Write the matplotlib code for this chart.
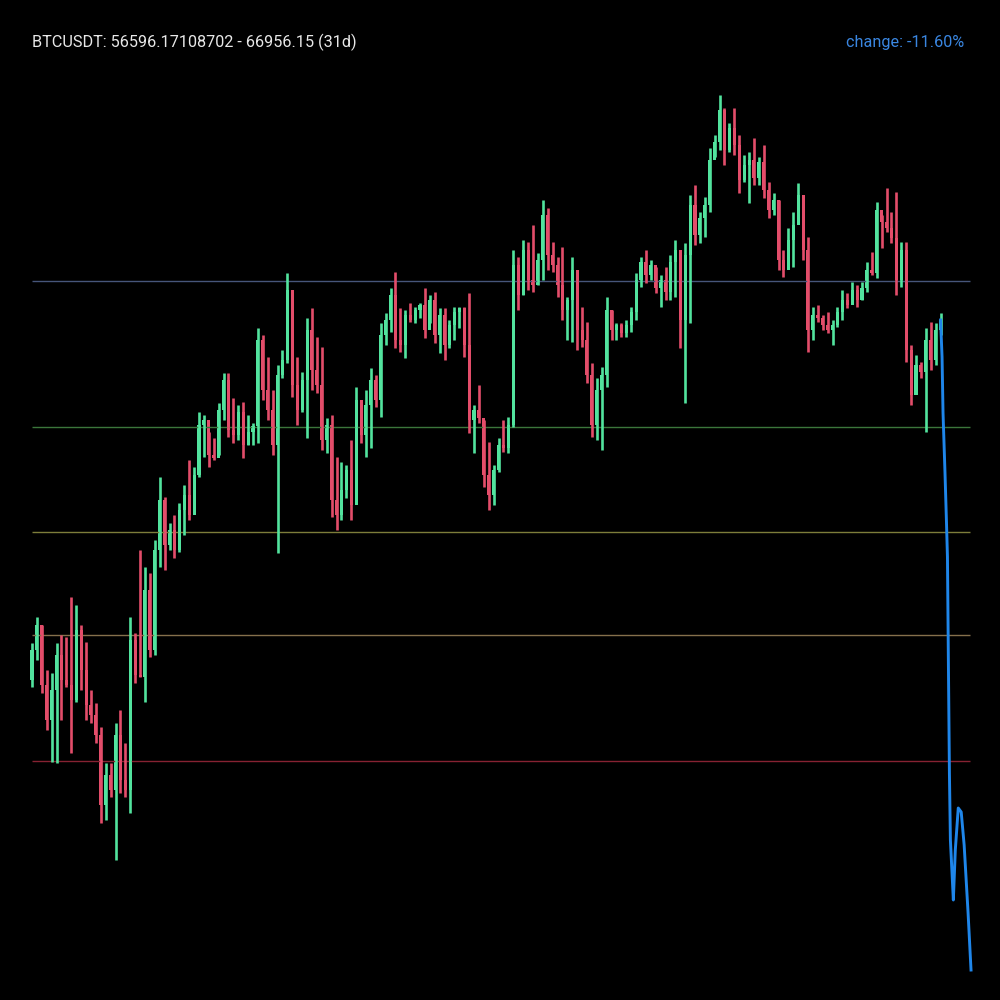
import numpy as np
import matplotlib.pyplot as plt

# 4h candles, BTCUSDT, 31 days
first_open = 60030

highs = [60467, 60776, 60681, 60148, 60112, 60467, 60563, 60539, 61012, 60918,
         60681, 60479, 59911, 59757, 59473, 59047, 59047, 59520, 59675, 59283,
         60776, 60586, 61569, 61368, 61296, 61687, 62433, 62196, 61888, 61984,
         62125, 62339, 62635, 62552, 63203, 63168, 62966, 62895, 63309, 63664,
         63664, 63368, 63286, 63321, 63168, 63072, 64197, 64115, 63854, 63463,
         63760, 63937, 64848, 64505, 63854, 63676, 64316, 64434, 64091, 63972,
         63132, 63168, 62670, 62611, 62576, 62871, 63499, 63321, 63463, 63724,
         63641, 64256, 64375, 64671, 64860, 64434, 64411, 64493, 64446, 64493,
         64671, 64588, 64623, 64434, 64434, 64292, 64446, 64446, 64446, 64611,
         63286, 63523, 63108, 62847, 62576, 62895, 63108, 63144, 65121, 65038,
         65239, 65215, 65417, 65085, 65713, 65618, 65215, 65038, 65156, 64564,
         65038, 64884, 64446, 64268, 63783, 63605, 63736, 64564, 64411, 64256,
         64256, 64292, 64446, 64848, 65038, 65121, 65003, 64920, 64825, 64920,
         65062, 65239, 65038, 65203, 65772, 65891, 65571, 65748, 66328, 66483,
         66956, 66802, 66624, 66802, 66483, 66246, 66281, 66447, 66222, 66364,
         65926, 65795, 65713, 65121, 65381, 65571, 65914, 65630, 65275, 64446,
         64470, 64352, 64387, 64292, 64446, 64647, 64611, 64742, 64707, 64742,
         64979, 65097, 65689, 65536, 65855, 65571, 65807, 65215, 65215, 63996,
         63878, 63795, 64197, 64268, 64256, 64375]

lows = [59947, 60267, 59875, 59438, 59059, 59047, 59556, 59947, 59165, 59769,
        59911, 59556, 59520, 59283, 58336, 58372, 58644, 57899, 58691, 58644,
        58455, 59994, 60065, 59769, 60302, 60326, 61368, 61332, 61569, 61474,
        61545, 61747, 61924, 62125, 62433, 62670, 62552, 62635, 62694, 63108,
        62907, 62835, 62871, 62658, 62812, 62812, 62835, 63345, 63108, 62694,
        61533, 63605, 63783, 63380, 63049, 63203, 62895, 63463, 63427, 62753,
        62717, 61960, 61806, 61924, 62184, 61924, 62196, 62835, 62670, 62776,
        63262, 63144, 63996, 64150, 63960, 63913, 63842, 64268, 64256, 64316,
        64079, 64256, 64019, 63901, 63819, 63960, 64055, 64197, 63854, 62954,
        62717, 63072, 62315, 62043, 62102, 62492, 62729, 62717, 63025, 64411,
        64588, 64647, 64623, 64707, 64766, 64884, 64860, 64564, 64292, 64055,
        64031, 63937, 63972, 63546, 62907, 62871, 62753, 63499, 64055, 64055,
        64091, 64091, 64150, 64292, 64683, 64730, 64766, 64611, 64446, 64529,
        64529, 64564, 63960, 63309, 64256, 65180, 65203, 65275, 65571, 66222,
        66305, 66128, 66281, 66246, 65795, 65926, 65677, 65891, 65891, 65736,
        65500, 65536, 64884, 64801, 64979, 64920, 65452, 65003, 63913, 64055,
        64268, 64174, 64138, 63996, 64209, 64292, 64434, 64529, 64446, 64529,
        64623, 64825, 64789, 65144, 65334, 65203, 64588, 64683, 63795, 63286,
        63439, 63605, 62966, 63700, 63760, 64115]

closes = [60385, 60681, 59971, 59556, 59911, 60326, 60030, 59971, 59793, 60622,
          60148, 59734, 59616, 59379, 58550, 58905, 58727, 59379, 58846, 58727,
          60503, 60089, 60065, 61095, 60385, 61569, 62161, 61628, 61806, 61569,
          62043, 62220, 61984, 62457, 63049, 63108, 62694, 62658, 63227, 63582,
          62990, 62931, 63203, 62812, 62966, 63037, 64055, 63463, 63227, 62812,
          63641, 63819, 64647, 63523, 63227, 63582, 64174, 63700, 63523, 62871,
          63049, 62161, 61984, 62279, 62516, 62102, 63345, 62931, 63286, 63582,
          63345, 64115, 64292, 64588, 64055, 63996, 64352, 64292, 64411, 64470,
          64174, 64529, 64115, 64352, 63996, 64233, 64387, 64434, 63996, 63108,
          63227, 63132, 62457, 62220, 62516, 62812, 62776, 63049, 64944, 64588,
          65121, 64766, 64707, 65003, 65536, 65062, 64944, 64707, 64411, 64529,
          64884, 64174, 64055, 63641, 63049, 63463, 63641, 64411, 64174, 64233,
          64138, 64233, 64387, 64766, 64979, 64825, 64944, 64671, 64766, 64623,
          64979, 65121, 64292, 65062, 65654, 65299, 65500, 65654, 66187, 66399,
          66779, 66305, 66565, 66364, 65950, 66128, 66187, 65973, 66163, 65831,
          65595, 65713, 65003, 64884, 65239, 65417, 65772, 65121, 64174, 64352,
          64316, 64233, 64174, 64233, 64387, 64529, 64470, 64647, 64529, 64671,
          64884, 64848, 65595, 65452, 65381, 65263, 64766, 65121, 63937, 63404,
          63760, 63676, 64055, 63819, 64174, 64292]

# projected path drawn after the last candle
forecast_t = [185, 185.3, 185.5, 185.9, 186.2, 186.4, 186.6, 186.8, 187.0, 187.4,
              187.6, 188.0, 188.6, 189.2, 189.8, 190.6, 191.2]
forecast = [64292, 63854, 63191, 62481, 61900, 61486, 60184, 58929, 58135, 57662,
            57425, 58017, 58514, 58467, 58076, 57271, 56596]

levels = [64754, 63025, 61782, 60562, 59070]
level_colors = ['#46557a', '#3b763b', '#7d7d3a', '#85704c', '#862232']

title = 'BTCUSDT: 56596.17108702 - 66956.15 (31d)'
change = 'change: -11.60%'

up_color = '#52e39e'
down_color = '#e34d6a'


def plot():
    highs_a = np.array(highs)
    lows_a = np.array(lows)
    closes_a = np.array(closes)
    opens_a = np.r_[first_open, closes_a[:-1]]
    t = np.arange(len(closes_a))
    colors = np.where(closes_a >= opens_a, up_color, down_color)

    fig = plt.figure(figsize=(10, 10), dpi=100, facecolor='black')
    ax = fig.add_axes([0, 0, 1, 1])
    ax.set_facecolor('black')

    for level, c in zip(levels, level_colors):
        ax.hlines(level, 0, 191, colors=c, lw=1.0)

    ax.vlines(t, lows_a, highs_a, colors=colors, lw=1.9)
    ax.bar(t, closes_a - opens_a, bottom=opens_a, width=0.62, color=colors)

    ax.plot(forecast_t, forecast, color='#1f86ea', lw=2.1)

    ax.set_xlim(-6.52, 197.1)
    ax.set_ylim(56241, 68081)
    ax.axis('off')

    fig.text(0.032, 0.958, title, color='#e8e8e8', fontsize=11.7,
             family='Roboto', va='center', ha='left')
    fig.text(0.964, 0.958, change, color='#3a86e0', fontsize=11.7,
             family='Roboto', va='center', ha='right')

    fig.savefig('out.png', facecolor='black')


if __name__ == "__main__":
    plot()
